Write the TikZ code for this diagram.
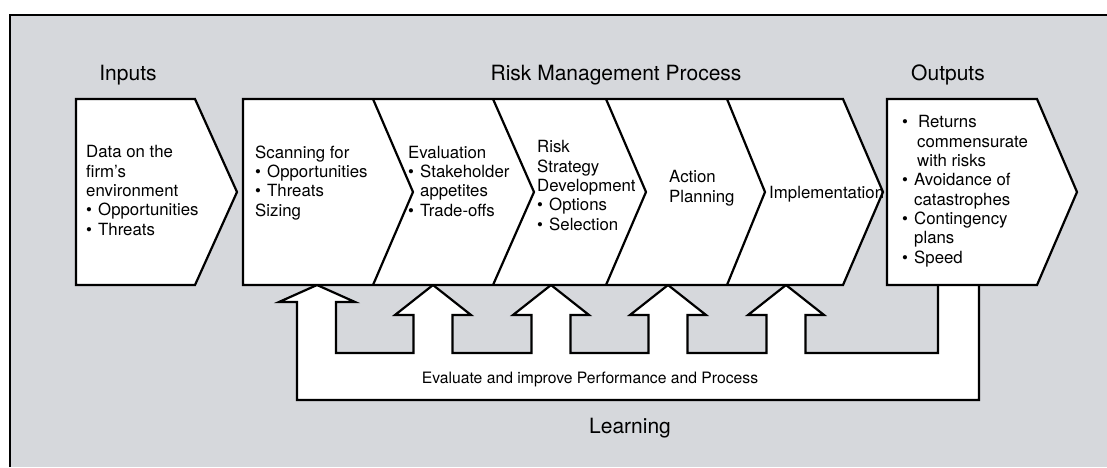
\documentclass[tikz,border=0pt]{standalone}
\usepackage{fontspec}
\setmainfont{TeX Gyre Heros}
\definecolor{panel}{RGB}{214,216,220}
\newcommand{\bul}{\makebox[12pt][l]{\textbullet}}
\newcommand{\ind}{\hspace*{12pt}}

\begin{document}
\begin{tikzpicture}[
	x=1pt,y=-1pt,
	every node/.style={inner sep=0pt},
	outline/.style={draw=black,line width=2.2pt,fill=white},
	heading/.style={font=\fontsize{21}{24}\selectfont,anchor=base},
	body/.style={font=\fontsize{16.8}{19.3}\selectfont,align=left,anchor=base west},
	loop text/.style={font=\fontsize{15.7}{18}\selectfont,anchor=base}
	]
	\useasboundingbox (0,0) rectangle (1107,467);
	\fill[white] (0,0) rectangle (1107,467);
	\fill[panel] (10,15) rectangle (1107,467);
	\draw[line width=2.2pt] (10,467) -- (10,15) -- (1107,15);

	% feedback loop with the arrows into the process
	\draw[outline] (979,284) -- (979,400) -- (297,400) -- (297,302) -- (279,302) -- (317,285)
		-- (355,302) -- (336,302) -- (336,353)
		\foreach \c in {433,551,668,786}{
			-- (\c-19.5,353) -- (\c-19.5,315) -- (\c-38,315) -- (\c,285)
			-- (\c+38,315) -- (\c+19.5,315) -- (\c+19.5,353)}
		-- (938,353) -- (938,284) -- cycle;

	% chevrons
	\draw[outline] (76,99) -- (195,99) -- (237,192) -- (195,285) -- (76,285) -- cycle;
	\draw[outline] (243,99) -- (843,99) -- (883,192) -- (843,285) -- (243,285) -- cycle;
	\foreach \t/\p in {373/413,493/534,606/646,727/765}
		\draw[line width=2.2pt] (\t,99) -- (\p,192) -- (\t,285);
	\draw[outline] (887,99) -- (1037,99) -- (1077,192) -- (1037,285) -- (887,285) -- cycle;

	\node[heading] (inputs) at (128,80) {Inputs};
	\node[heading] (rmp) at (616,80) {Risk Management Process};
	\node[heading] (outputs) at (948,80) {Outputs};

	% multi-line nodes sit on the baseline of their last line
	\node[body] (data) at (86,235) {Data on the\\firm's\\environment\\\bul Opportunities\\\bul Threats};
	\node[body] (scan) at (255,216) {Scanning for\\\bul Opportunities\\\bul Threats\\Sizing};
	\node[body] (eval) at (408,216) {Evaluation\\\bul Stakeholder\\\ind appetites\\\bul Trade-offs};
	\node[body] (strat) at (537,230) {Risk\\Strategy\\Development\\\bul Options\\\bul Selection};
	\node[body] (plan) at (669,202) {Action\\Planning};
	\node[body] (impl) at (769,198) {Implementation};
	\node[body] (ret) at (902,263) {\bul\hspace{4pt}Returns\\\hspace*{15pt}commensurate\\\hspace*{15pt}with risks\\\bul Avoidance of\\\ind catastrophes\\\bul Contingency\\\ind plans\\\bul Speed};

	\node[loop text] (improve) at (590,383) {Evaluate and improve Performance and Process};
	\node[heading] (learning) at (630,433) {Learning};
\end{tikzpicture}
\end{document}
